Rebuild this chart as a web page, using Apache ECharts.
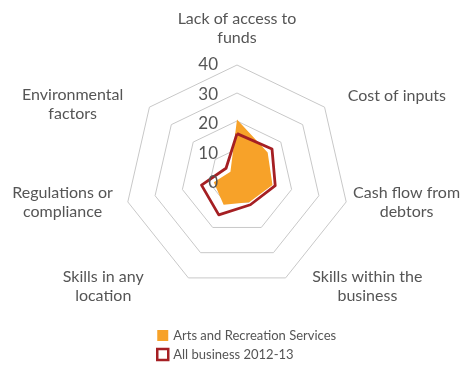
<!DOCTYPE html>
<html>
<head>
<meta charset="utf-8">
<script src="https://cdn.jsdelivr.net/npm/echarts@6/dist/echarts.min.js"></script>
<style>
  html, body { margin: 0; padding: 0; background: #fff; }
  #chart { width: 463px; height: 365px; }
</style>
</head>
<body>
<div id="chart"></div>
<script>
// Barriers to business, read clockwise from the top spoke
const categories = [
  'Lack of access to\nfunds',
  'Cost of inputs',
  'Cash flow from\ndebtors',
  'Skills within the\nbusiness',
  'Skills in any\nlocation',
  'Regulations or\ncompliance',
  'Environmental\nfactors'
];
const artsRecreation = [20.5, 14, 13, 10, 11, 8.5, 3];
const allBusiness = [15.5, 16, 14, 11, 15, 13, 5];
const seriesNames = ['Arts and Recreation Services', 'All business 2012-13'];
const axisMax = 40;
const axisSplits = 4;

// ECharts lays radar spokes out counter-clockwise, so keep the first
// spoke on top and reverse the rest to read clockwise.
const order = [0].concat(categories.map((_, i) => i).slice(1).reverse());
const pick = arr => order.map(i => arr[i]);

const ORANGE = '#F7A229';
const RED = '#A51F23';
const TEXT = '#555';
const FONT = 'Lato, "Open Sans", sans-serif';

// Nudges for each spoke name: horizontal padding (left, right) and
// spacer lines above / below the wrapped text.
const nameNudge = [
  { l: 0, r: 0, above: 0, below: 14 },
  { l: 20, r: 0, above: 0, below: 17 },
  { l: 3, r: 0, above: 0, below: 0 },
  { l: 25, r: 0, above: 10, below: 0 },
  { l: 0, r: 43, above: 10, below: 0 },
  { l: 0, r: 11, above: 0, below: 0 },
  { l: 0, r: 23, above: 0, below: 0 }
];

const nameRich = {};
nameNudge.forEach((n, i) => {
  nameRich['n' + i] = {
    align: 'center', color: TEXT, fontSize: 16, lineHeight: 19,
    fontFamily: FONT, padding: [0, n.r, 0, n.l]
  };
  nameRich['sa' + i] = { fontSize: 1, lineHeight: Math.max(n.above, 1) };
  nameRich['sb' + i] = { fontSize: 1, lineHeight: Math.max(n.below, 1) };
});

function formatName(name) {
  const i = categories.indexOf(name);
  const n = nameNudge[i];
  const lines = name.split('\n').map(l => '{n' + i + '|' + l + '}');
  if (n.above) lines.unshift('{sa' + i + '| }');
  if (n.below) lines.push('{sb' + i + '| }');
  return lines.join('\n');
}

const mainIndicator = pick(categories).map(name => ({ name: name, min: 0, max: axisMax }));
const labelIndicator = pick(categories).map((name, i) => {
  const ind = { name: name, min: 0, max: axisMax };
  if (i === 0) ind.axisLabel = { show: true };
  return ind;
});

const chart = echarts.init(document.getElementById('chart'));
chart.setOption({
  animation: false,
  textStyle: { fontFamily: FONT },
  legend: {
    orient: 'vertical',
    left: 156,
    top: 327.5,
    height: 40,
    padding: 0,
    itemWidth: 11,
    itemHeight: 11,
    itemGap: 3,
    textStyle: { color: TEXT, fontSize: 13, lineHeight: 16, fontFamily: FONT },
    data: [
      { name: seriesNames[0], icon: 'rect', itemStyle: { color: ORANGE, borderWidth: 0 } },
      { name: seriesNames[1], icon: 'rect', itemStyle: { color: '#fff', borderColor: RED, borderWidth: 2.5 } }
    ]
  },
  radar: [
    {
      // rings and spoke names
      center: [237, 177],
      radius: 112,
      shape: 'polygon',
      startAngle: 90,
      splitNumber: axisSplits,
      nameGap: 4,
      indicator: mainIndicator,
      axisName: {
        color: TEXT, fontSize: 16, fontFamily: FONT, lineHeight: 19,
        formatter: formatName, rich: nameRich
      },
      axisLine: { show: false },
      axisTick: { show: false },
      splitArea: { show: false },
      splitLine: { lineStyle: { color: '#c8c8c8', width: 1 } },
      axisLabel: { show: false }
    },
    {
      // value scale on the top spoke, drawn above the filled areas
      z: 10,
      center: [237, 183],
      radius: 118,
      shape: 'polygon',
      startAngle: 90,
      splitNumber: axisSplits,
      indicator: labelIndicator,
      axisName: { show: false },
      axisLine: { show: false },
      axisTick: { show: false },
      splitArea: { show: false },
      splitLine: { show: false },
      axisLabel: { show: false, color: TEXT, fontSize: 17, margin: 19, fontFamily: FONT }
    }
  ],
  series: [{
    type: 'radar',
    radarIndex: 0,
    symbol: 'none',
    data: [
      {
        name: seriesNames[0],
        value: pick(artsRecreation),
        lineStyle: { width: 0, color: ORANGE },
        itemStyle: { color: ORANGE },
        areaStyle: { color: ORANGE, opacity: 1 }
      },
      {
        name: seriesNames[1],
        value: pick(allBusiness),
        lineStyle: { width: 2.8, color: RED },
        itemStyle: { color: RED }
      }
    ]
  }]
});
</script>
</body>
</html>
